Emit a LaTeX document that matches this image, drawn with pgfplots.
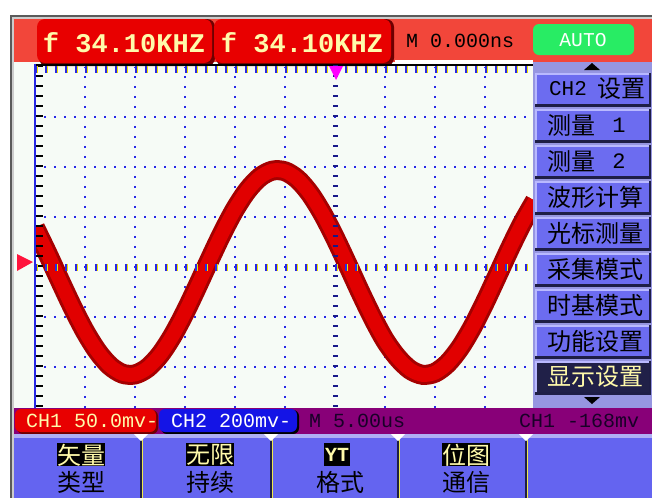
\documentclass[border=0pt]{standalone}
\usepackage{pgfplots}
\usepackage{pgfplotstable}
\pgfplotsset{compat=1.18}
\usepackage{fontspec}
\setmainfont{Liberation Sans}
\newfontfamily\mono{Liberation Mono}
\newfontfamily\cjk{Noto Sans CJK SC}

\definecolor{hdrbg}{RGB}{242,70,58}
\definecolor{boxred}{RGB}{232,0,0}
\definecolor{boxshadow}{RGB}{110,0,0}
\definecolor{ytext}{RGB}{255,250,170}
\definecolor{autogreen}{RGB}{40,236,100}
\definecolor{screenbg}{RGB}{246,251,246}
\definecolor{gridblue}{RGB}{40,40,230}
\definecolor{gridyellow}{RGB}{235,225,0}
\definecolor{tracedark}{RGB}{165,0,0}
\definecolor{tracered}{RGB}{225,0,0}
\definecolor{panelbg}{RGB}{150,150,225}
\definecolor{btnfill}{RGB}{108,108,240}
\definecolor{btnlight}{RGB}{185,185,255}
\definecolor{btndark}{RGB}{30,30,70}
\definecolor{selbg}{RGB}{32,32,72}
\definecolor{statpurple}{RGB}{136,0,120}
\definecolor{ch2blue}{RGB}{20,20,230}
\definecolor{btmblue}{RGB}{100,100,240}
\definecolor{btmlight}{RGB}{175,175,245}
\definecolor{framegray}{RGB}{90,90,90}
\definecolor{trigmag}{RGB}{255,0,255}
\definecolor{trigred}{RGB}{255,20,60}
\definecolor{stattext}{RGB}{25,0,40}

\pgfplotstableread{
x y
0.00 0.787
0.25 0.270
0.50 -0.274
0.75 -0.804
1.00 -1.288
1.25 -1.688
1.50 -1.977
1.75 -2.134
2.00 -2.148
2.25 -2.019
2.50 -1.756
2.75 -1.376
3.00 -0.907
3.25 -0.382
3.50 0.162
3.75 0.687
4.00 1.156
4.25 1.535
4.50 1.799
4.75 1.928
5.00 1.914
5.25 1.757
5.50 1.468
5.75 1.068
6.00 0.584
6.25 0.054
6.50 -0.490
6.75 -1.007
7.00 -1.466
7.25 -1.811
7.50 -2.052
7.75 -2.156
8.00 -2.114
8.25 -1.929
8.50 -1.616
8.75 -1.198
9.00 -0.702
9.25 -0.165
9.50 0.377
9.75 0.883
10.00 1.321
}\trace

\newcommand\fmono[1]{\mono\fontsize{#1}{#1}\selectfont}
\newcommand\fcjk[1]{\cjk\fontsize{#1}{#1}\selectfont}

\newcommand\mbtn[2]{%
  \fill[btndark] (535,#1) rectangle ++(116,34);
  \fill[btnlight] (535,#1) rectangle ++(114,31);
  \fill[#2] (537,#1) ++(0,2) rectangle ++(112,29);
}

\begin{document}
\begin{tikzpicture}
\begin{scope}[x=0.5pt,y=-0.5pt]
  \path[use as bounding box] (0,0) rectangle (652,498);
  \fill[white] (0,0) rectangle (652,498);
  \fill[black!20] (10,15) rectangle (652,498);
  \fill[framegray] (10,15) rectangle (652,17);
  \fill[framegray] (10,15) rectangle (12,498);
  \fill[screenbg] (14,19) rectangle (652,498);
  % header
  \fill[hdrbg] (14,19) rectangle (652,62);
  \fill[boxshadow, rounded corners=4pt] (39,19) rectangle (215,66);
  \fill[boxred, rounded corners=4pt] (37,19) rectangle (212,63);
  \fill[boxshadow, rounded corners=4pt] (216,19) rectangle (394,66);
  \fill[boxred, rounded corners=4pt] (214,19) rectangle (391,63);
  \node[text=ytext, font=\fmono{13.5}\bfseries] at (124,43) {f 34.10KHZ};
  \node[text=ytext, font=\fmono{13.5}\bfseries] at (302,43) {f 34.10KHZ};
  \node[anchor=west, text=black, font=\fmono{10}] at (399,41) {M 0.000ns};
  \fill[white] (395,60) rectangle (533,64);
  \fill[autogreen, rounded corners=3pt] (533,24) rectangle (634,55);
  \node[text=white, font=\fmono{9.8}] at (583,40) {AUTO};
\end{scope}

\begin{axis}[at={(17.5pt,-206pt)}, anchor=south west, scale only axis,
  width=250pt, height=172.5pt,
  xmin=0, xmax=10, ymin=-2.9, ymax=4,
  axis line style={draw=none},
  major tick length=0pt,
  xtick={1,2,3,4,5,7,8,9}, ytick={-2,-1,1,2,3},
  xticklabels={}, yticklabels={},
  grid=major,
  x grid style={gridblue, line width=1pt, dash pattern=on 1pt off 4pt, dash phase=3pt},
  y grid style={gridblue, line width=1pt, dash pattern=on 1pt off 4pt, dash phase=0.5pt},
  clip=true]
  \addplot[smooth, line width=10pt, tracedark] table {\trace};
  \addplot[smooth, line width=7pt, tracered] table {\trace};
\end{axis}

\begin{scope}[x=0.5pt,y=-0.5pt]
  % screen borders and tick marks
  \fill[black] (35,64) rectangle (533,66);
  \fill[gridblue] (34,64) rectangle (36,408);
  \foreach \k in {0,...,34} {
    \fill[black] (36,{67+10*\k}) rectangle ++(7,-2);
    \fill[gridblue!60!black] (333,{67+10*\k}) rectangle ++(5,-2);
  }
  \foreach \k in {0,...,49} {
    \fill[gridblue] ({35+10*\k},66) rectangle ++(2,7);
    \fill[gridyellow] ({37+10*\k},66) rectangle ++(1,7);
    \fill[gridblue] ({35+10*\k},264) rectangle ++(2,7);
    \fill[gridyellow] ({37+10*\k},264) rectangle ++(1,7);
  }
  % trigger markers
  \fill[trigmag] (329,66) -- (343,66) -- (336,80) -- cycle;
  \fill[trigred] (17,254) -- (17,271) -- (33,262) -- cycle;
  % right menu
  \fill[panelbg] (533,62) rectangle (652,408);
  \fill[black] (584,70) -- (600,70) -- (592,63) -- cycle;
  \mbtn{73}{btnfill}
  \mbtn{109}{btnfill}
  \mbtn{145}{btnfill}
  \mbtn{181}{btnfill}
  \mbtn{217}{btnfill}
  \mbtn{253}{btnfill}
  \mbtn{289}{btnfill}
  \mbtn{325}{btnfill}
  \mbtn{361}{selbg}
  \node[anchor=west, font=\fmono{10.5}] at (542,89) {CH2};
  \node[anchor=west, font=\fcjk{12}] at (590,89) {设置};
  \node[anchor=west, font=\fcjk{12}] at (540,125) {测量};
  \node[font=\fmono{11}] at (619,125) {1};
  \node[anchor=west, font=\fcjk{12}] at (540,161) {测量};
  \node[font=\fmono{11}] at (619,161) {2};
  \node[anchor=west, font=\fcjk{12}] at (540,197) {波形计算};
  \node[anchor=west, font=\fcjk{12}] at (540,233) {光标测量};
  \node[anchor=west, font=\fcjk{12}] at (540,269) {采集模式};
  \node[anchor=west, font=\fcjk{12}] at (540,305) {时基模式};
  \node[anchor=west, font=\fcjk{12}] at (540,341) {功能设置};
  \node[anchor=west, text=ytext, font=\fcjk{12}] at (540,377) {显示设置};
  \fill[black] (584,397) -- (600,397) -- (592,404) -- cycle;
  % status bar
  \fill[statpurple] (14,408) rectangle (652,434);
  \fill[boxshadow, rounded corners=3pt] (17,410) rectangle (158,434);
  \fill[boxred, rounded corners=3pt] (15,409) rectangle (156,432);
  \node[anchor=west, text=ytext, font=\fmono{10}] at (19,421) {CH1 50.0mv-};
  \fill[black, rounded corners=3pt] (161,410) rectangle (299,434);
  \fill[ch2blue, rounded corners=3pt] (159,409) rectangle (297,432);
  \node[anchor=west, text=white, font=\fmono{10}] at (164,421) {CH2 200mv-};
  \node[anchor=west, text=stattext, font=\fmono{10}] at (302,421) {M 5.00us};
  \node[anchor=west, text=stattext, font=\fmono{10}] at (512,421) {CH1 -168mv};
  % bottom buttons
  \fill[btmlight] (14,434) rectangle (652,438);
  \fill[btmblue] (14,438) rectangle (652,498);
  \foreach \sx in {140,270,397,525} {
    \fill[btndark] (\sx,438) rectangle ++(2,60);
    \fill[gridyellow!70!white] ({\sx+2},438) rectangle ++(1,60);
    \fill[white] ({\sx-6},434) -- ({\sx+8},434) -- ({\sx+1},441) -- cycle;
  }
  \fill[black] (57,443) rectangle (105,466);
  \node[text=ytext, font=\fcjk{12}] at (81,455) {矢量};
  \node[font=\fcjk{12}] at (81,482) {类型};
  \fill[black] (186,443) rectangle (234,466);
  \node[text=ytext, font=\fcjk{12}] at (210,455) {无限};
  \node[font=\fcjk{12}] at (210,482) {持续};
  \fill[black] (324,443) rectangle (350,466);
  \node[text=ytext, font=\fmono{10}\bfseries] at (337,455) {YT};
  \node[font=\fcjk{12}] at (340,482) {格式};
  \fill[black] (442,443) rectangle (490,466);
  \node[text=ytext, font=\fcjk{12}] at (466,455) {位图};
  \node[font=\fcjk{12}] at (466,482) {通信};
\end{scope}
\end{tikzpicture}
\end{document}
